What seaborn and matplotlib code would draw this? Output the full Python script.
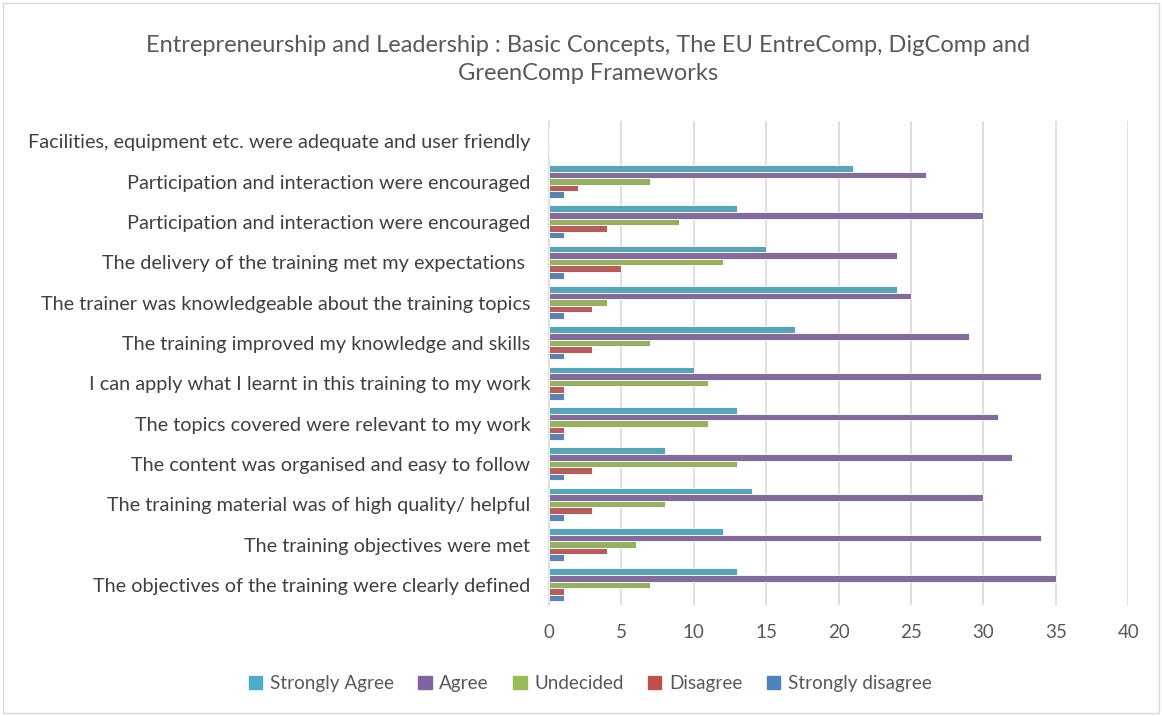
import numpy as np
import pandas as pd
import matplotlib
matplotlib.use('Agg')
import matplotlib.pyplot as plt
from matplotlib.patches import Rectangle
import seaborn as sns

# Datos (de arriba a abajo)
questions = [
    "Facilities, equipment etc. were adequate and user friendly",
    "Participation and interaction were encouraged",
    "Participation and interaction were encouraged",
    "The delivery of the training met my expectations ",
    "The trainer was knowledgeable about the training topics",
    "The training improved my knowledge and skills",
    "I can apply what I learnt in this training to my work",
    "The topics covered were relevant to my work",
    "The content was organised and easy to follow",
    "The training material was of high quality/ helpful",
    "The training objectives were met",
    "The objectives of the training were clearly defined",
]
levels = ["Strongly Agree", "Agree", "Undecided", "Disagree", "Strongly disagree"]

strongly_agree = [0, 21, 13, 15, 24, 17, 10, 13, 8, 14, 12, 13]
agree = [0, 26, 30, 24, 25, 29, 34, 31, 32, 30, 34, 35]
undecided = [0, 7, 9, 12, 4, 7, 11, 11, 13, 8, 6, 7]
disagree = [0, 2, 4, 5, 3, 3, 1, 1, 3, 3, 4, 1]
strongly_disagree = [0, 1, 1, 1, 1, 1, 1, 1, 1, 1, 1, 1]

colors = ["#4BACC6", "#8064A2", "#9BBB59", "#C0504D", "#4F81BD"]

# Tabla larga para seaborn (claves únicas porque hay preguntas repetidas)
keys = [f"q{i}" for i in range(len(questions))]
series = [strongly_agree, agree, undecided, disagree, strongly_disagree]
rows = []
for lvl, vals in zip(levels, series):
    for k, v in zip(keys, vals):
        rows.append({"question": k, "level": lvl, "count": v})
df = pd.DataFrame(rows)

sns.set_style("white")
plt.rcParams['font.family'] = ['Lato', 'DejaVu Sans']

fig = plt.figure(figsize=(11.62, 7.16), dpi=100)
ax = fig.add_axes([0.4725, 0.155, 0.4985, 0.676])

sns.barplot(data=df, y="question", x="count", hue="level", order=keys,
            hue_order=levels, palette=colors, orient="h", width=0.82,
            edgecolor="white", linewidth=0.6, ax=ax, zorder=3)

ax.set_yticks(range(len(questions)))
ax.set_yticklabels(questions)
ax.set_xlim(0, 40)
ax.set_xticks(range(0, 41, 5))
ax.set_xlabel("")
ax.set_ylabel("")
ax.grid(axis="x", color="#d9d9d9", linewidth=1.2, zorder=0)
ax.set_axisbelow(True)
for s in ["top", "right", "bottom"]:
    ax.spines[s].set_visible(False)
ax.spines["left"].set_color("#d9d9d9")
ax.spines["left"].set_linewidth(1.2)
ax.tick_params(axis="x", length=0, labelsize=13.5, colors="#595959", pad=14)
ax.tick_params(axis="y", length=0, labelsize=14.3, colors="#404040", pad=13.5)

# Leyenda abajo
handles = [plt.Rectangle((0, 0), 1, 1, color=c) for c in colors]
ax.get_legend().remove()
fig.legend(handles, levels, loc="center", bbox_to_anchor=(0.508, 0.045), ncol=5,
           frameon=False, fontsize=13.6, handlelength=0.7, handleheight=0.7,
           handletextpad=0.4, columnspacing=1.3, labelcolor="#595959")

fig.text(0.506, 0.917,
         "Entrepreneurship and Leadership : Basic Concepts, The EU EntreComp, DigComp and\nGreenComp Frameworks",
         ha="center", va="center", fontsize=17, color="#595959", linespacing=1.4)

fig.patches.append(Rectangle((0.003, 0.004), 0.994, 0.992, transform=fig.transFigure,
                             fill=False, edgecolor="#d9d9d9", linewidth=1))

plt.savefig("out.png", dpi=100)
